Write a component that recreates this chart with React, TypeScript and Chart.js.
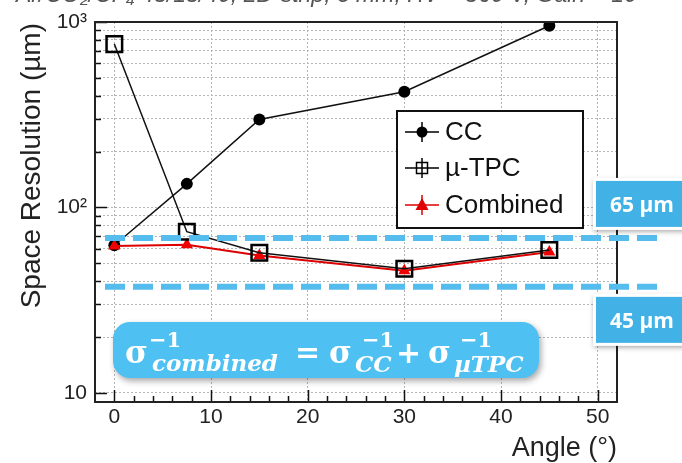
import { useEffect, useRef } from 'react';
import { Chart, registerables } from 'chart.js';

Chart.register(...registerables);

// ---- data ----
const ANGLES = [0, 7.5, 15, 30, 45];
const CC_RES = [62.5, 134, 298, 421, 955];
const UTPC_RES = [760, 74, 57, 46.7, 59];
const COMBINED_RES = [62, 63, 55, 45.5, 57.5];

const X_MIN = -2;
const X_MAX = 52;
const Y_MIN = 8.93;
const Y_MAX = 1000;

const X_TICKS = [0, 2, 4, 6, 8, 10, 12, 14, 16, 18, 20, 22, 24, 26, 28, 30, 32, 34, 36, 38, 40, 42, 44, 46, 48, 50];
const X_MAJOR = [0, 10, 20, 30, 40, 50];
const Y_TICKS = [10, 20, 30, 40, 50, 60, 70, 80, 90, 100, 200, 300, 400, 500, 600, 700, 800, 900, 1000];
const Y_MAJOR = [10, 100, 1000];
const Y_LABELS = ['10', '10²', '10³'];

const REF_LINES = [68.5, 37.3];
const REF_LABELS = ['65 µm', '45 µm'];

const SERIES_LABELS = ['CC', 'µ-TPC', 'Combined'];
const X_TITLE = 'Angle (°)';
const Y_TITLE = 'Space Resolution (µm)';
const HEADER = 'Ar/CO₂/CF₄ 45/15/40, 2D-strip, 3 mm, HV = 560 V, Gain ~ 10⁴';

const SANS = '"Liberation Sans", Arial, Helvetica, sans-serif';
const SERIF = '"DejaVu Serif", serif';
const BLUE_DASH = '#55bdee';
const BLUE_BOX = '#42b2e6';
const BLUE_FORMULA = '#4fc0f2';

function roundRect(ctx: CanvasRenderingContext2D, x: number, y: number, w: number, h: number, r: number) {
  ctx.beginPath();
  ctx.moveTo(x + r, y);
  ctx.lineTo(x + w - r, y);
  ctx.arcTo(x + w, y, x + w, y + r, r);
  ctx.lineTo(x + w, y + h - r);
  ctx.arcTo(x + w, y + h, x + w - r, y + h, r);
  ctx.lineTo(x + r, y + h);
  ctx.arcTo(x, y + h, x, y + h - r, r);
  ctx.lineTo(x, y + r);
  ctx.arcTo(x, y, x + r, y, r);
  ctx.closePath();
}

const overlay = {
  id: 'overlay',
  afterDraw(chart: any) {
    const { ctx, chartArea: a, scales } = chart;
    const xs = scales.x;
    const ys = scales.y;
    ctx.save();

    // inner ticks (ROOT style)
    ctx.strokeStyle = '#111';
    ctx.lineWidth = 1.5;
    ctx.beginPath();
    X_TICKS.forEach((v) => {
      const px = Math.round(xs.getPixelForValue(v)) + 0.5;
      const L = X_MAJOR.includes(v) ? 12 : 6;
      ctx.moveTo(px, a.bottom);
      ctx.lineTo(px, a.bottom - L);
    });
    Y_TICKS.forEach((v) => {
      const py = Math.round(ys.getPixelForValue(v)) + 0.5;
      const L = Y_MAJOR.includes(v) ? 12 : 6;
      ctx.moveTo(a.left, py);
      ctx.lineTo(a.left + L, py);
    });
    ctx.stroke();

    // frame
    ctx.lineWidth = 2;
    ctx.strokeStyle = '#222';
    ctx.strokeRect(a.left, a.top, a.right - a.left, a.bottom - a.top);

    // blue dashed reference lines
    ctx.strokeStyle = BLUE_DASH;
    ctx.lineWidth = 6;
    ctx.setLineDash([20, 8]);
    REF_LINES.forEach((v) => {
      const py = ys.getPixelForValue(v);
      ctx.beginPath();
      ctx.moveTo(a.left + 10, py);
      ctx.lineTo(a.right + 46, py);
      ctx.stroke();
    });
    ctx.setLineDash([]);

    // label boxes
    REF_LINES.forEach((v, i) => {
      const py = ys.getPixelForValue(v);
      const top = i === 0 ? py - 57 : py + 10;
      const bx = a.right - 21;
      ctx.save();
      ctx.shadowColor = 'rgba(0,0,0,0.35)';
      ctx.shadowBlur = 5;
      ctx.shadowOffsetX = 1;
      ctx.shadowOffsetY = 2;
      ctx.fillStyle = '#ffffff';
      ctx.fillRect(bx - 3, top - 3, 120, 52);
      ctx.restore();
      ctx.fillStyle = BLUE_BOX;
      ctx.fillRect(bx, top, 120, 46);
      ctx.fillStyle = '#ffffff';
      ctx.font = `bold 21px "Open Sans", ${SANS}`;
      ctx.textAlign = 'left';
      ctx.textBaseline = 'alphabetic';
      ctx.fillText(REF_LABELS[i], bx + 14, top + 31);
    });

    // formula box
    {
      const bx = a.left + 18;
      const by = 322;
      const bw = 426;
      const bh = 56;
      ctx.save();
      ctx.shadowColor = 'rgba(0,0,0,0.35)';
      ctx.shadowBlur = 6;
      ctx.shadowOffsetX = 2;
      ctx.shadowOffsetY = 3;
      ctx.fillStyle = BLUE_FORMULA;
      roundRect(ctx, bx, by, bw, bh, 17);
      ctx.fill();
      ctx.restore();
      ctx.fillStyle = '#ffffff';
      ctx.textAlign = 'left';
      ctx.textBaseline = 'alphabetic';
      const sig = `bold 31px ${SERIF}`;
      const sup = `bold 21px ${SERIF}`;
      const sub = `italic bold 23px ${SERIF}`;
      const op = `bold 30px ${SERIF}`;
      const put = (t: string, f: string, dx: number, base: number) => {
        ctx.font = f;
        ctx.fillText(t, bx + dx, by + base);
      };
      put('σ', sig, 12, 41);
      put('−1', sup, 36, 25);
      put('combined', sub, 39, 49);
      put('=', op, 182, 40);
      put('σ', sig, 216, 41);
      put('−1', sup, 249, 25);
      put('CC', sub, 242, 50);
      put('+', op, 283, 41);
      put('σ', sig, 315, 41);
      put('−1', sup, 347, 25);
      put('µTPC', sub, 341, 50);
    }

    // legend
    {
      const lx = 397;
      const ly = 111;
      ctx.fillStyle = '#ffffff';
      ctx.fillRect(lx, ly, 186, 117);
      ctx.strokeStyle = '#111';
      ctx.lineWidth = 2;
      ctx.strokeRect(lx, ly, 186, 117);
      const rowsY = [ly + 21, ly + 57, ly + 94];
      const colors = ['#000000', '#000000', '#e00000'];
      rowsY.forEach((ry, i) => {
        const mx = lx + 25;
        ctx.strokeStyle = colors[i];
        ctx.lineWidth = 1.5;
        ctx.beginPath();
        ctx.moveTo(lx + 8, ry);
        ctx.lineTo(lx + 42, ry);
        ctx.moveTo(mx, ry - 10);
        ctx.lineTo(mx, ry + 10);
        ctx.stroke();
        ctx.fillStyle = colors[i];
        if (i === 0) {
          ctx.beginPath();
          ctx.arc(mx, ry, 5.5, 0, Math.PI * 2);
          ctx.fill();
        } else if (i === 1) {
          ctx.lineWidth = 1.5;
          ctx.strokeRect(mx - 5.5, ry - 5.5, 11, 11);
        } else {
          ctx.beginPath();
          ctx.moveTo(mx, ry - 7);
          ctx.lineTo(mx + 6.5, ry + 5);
          ctx.lineTo(mx - 6.5, ry + 5);
          ctx.closePath();
          ctx.fill();
        }
        ctx.fillStyle = '#111';
        ctx.font = `26px ${SANS}`;
        ctx.textAlign = 'left';
        ctx.textBaseline = 'middle';
        ctx.fillText(SERIES_LABELS[i], lx + 48, ry + 1);
      });
    }

    // axis titles
    ctx.fillStyle = '#222';
    ctx.textBaseline = 'alphabetic';
    ctx.font = `27px ${SANS}`;
    ctx.textAlign = 'right';
    ctx.fillText(X_TITLE, a.right, 456);
    ctx.save();
    ctx.font = `28px ${SANS}`;
    ctx.translate(40, a.top + 1);
    ctx.rotate(-Math.PI / 2);
    ctx.textAlign = 'right';
    ctx.fillText(Y_TITLE, 0, 0);
    ctx.restore();

    // header (clipped at top of image)
    ctx.fillStyle = '#555';
    ctx.font = `italic 23px ${SANS}`;
    ctx.textAlign = 'left';
    ctx.fillText(HEADER, 16, 2);

    ctx.restore();
  },
};

export default function App() {
  const ref = useRef<HTMLCanvasElement | null>(null);
  useEffect(() => {
    document.body.style.margin = '0';
    const canvas = ref.current;
    if (!canvas) return;
    const pts = (vals: number[]) => ANGLES.map((x, i) => ({ x, y: vals[i] }));
    const chart = new Chart(canvas, {
      type: 'line',
      data: {
        datasets: [
          {
            label: SERIES_LABELS[0],
            data: pts(CC_RES),
            borderColor: '#111',
            backgroundColor: '#000',
            borderWidth: 1.5,
            pointStyle: 'circle',
            pointRadius: 6,
            pointBorderWidth: 0,
            pointBackgroundColor: '#000',
            tension: 0,
            order: 3,
          },
          {
            label: SERIES_LABELS[1],
            data: pts(UTPC_RES),
            borderColor: '#111',
            backgroundColor: 'rgba(0,0,0,0)',
            borderWidth: 1.5,
            pointStyle: 'rect',
            pointRadius: 11,
            pointBorderWidth: 2.5,
            pointBorderColor: '#000',
            pointBackgroundColor: 'rgba(0,0,0,0)',
            tension: 0,
            order: 1,
          },
          {
            label: SERIES_LABELS[2],
            data: pts(COMBINED_RES),
            borderColor: '#dd0000',
            backgroundColor: '#ee0000',
            borderWidth: 2,
            pointStyle: 'triangle',
            pointRadius: 7,
            pointBorderWidth: 0,
            pointBackgroundColor: '#ee0000',
            tension: 0,
            order: 2,
          },
        ],
      },
      options: {
        responsive: false,
        animation: false,
        devicePixelRatio: 1,
        layout: { padding: { left: 0, top: 22, right: 65, bottom: 0 } },
        plugins: { legend: { display: false }, tooltip: { enabled: false } },
        scales: {
          x: {
            type: 'linear',
            min: X_MIN,
            max: X_MAX,
            afterBuildTicks: (s: any) => {
              s.ticks = X_TICKS.map((v) => ({ value: v }));
            },
            afterFit: (s: any) => {
              s.height = 61;
            },
            ticks: {
              autoSkip: false,
              maxRotation: 0,
              padding: 3,
              color: '#222',
              font: { family: SANS, size: 21 },
              callback: (v: any) => (X_MAJOR.includes(Number(v)) ? String(v) : ''),
            },
            grid: {
              drawTicks: false,
              lineWidth: 1,
              color: (c: any) => (c.tick && X_MAJOR.includes(c.tick.value) ? '#b5b5b5' : 'rgba(0,0,0,0)'),
            },
            border: { display: false, dash: [2, 2] },
          },
          y: {
            type: 'logarithmic',
            min: Y_MIN,
            max: Y_MAX,
            afterBuildTicks: (s: any) => {
              s.ticks = Y_TICKS.map((v) => ({ value: v, major: Y_MAJOR.includes(v) }));
            },
            afterFit: (s: any) => {
              s.width = 95;
            },
            ticks: {
              autoSkip: false,
              padding: 8,
              color: '#222',
              font: { family: SANS, size: 21 },
              callback: (v: any) => {
                const idx = Y_MAJOR.indexOf(Number(v));
                return idx >= 0 ? Y_LABELS[idx] : '';
              },
            },
            grid: { drawTicks: false, lineWidth: 1, color: '#b5b5b5' },
            border: { display: false, dash: [2, 2] },
          },
        },
      },
      plugins: [overlay],
    } as any);
    return () => chart.destroy();
  }, []);
  return (
    <div style={{ position: 'absolute', left: 0, top: 0, width: 682, height: 463, background: '#fff' }}>
      <canvas ref={ref} width={682} height={463} style={{ display: 'block', width: 682, height: 463 }} />
    </div>
  );
}
